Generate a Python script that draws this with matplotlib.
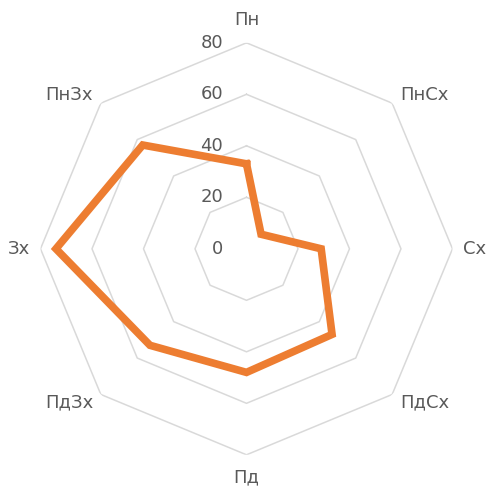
import numpy as np
import matplotlib.pyplot as plt

# directions and the measured values for each
categories = ['Пн', 'ПнСх', 'Сх', 'ПдСх', 'Пд', 'ПдЗх', 'Зх', 'ПнЗх']
values = [33, 8, 29, 47, 48, 53, 74, 57]
ticks = [0, 20, 40, 60, 80]

n = len(categories)
angles = np.arange(n) * 2 * np.pi / n
closed = np.append(angles, angles[0])

fig = plt.figure(figsize=(4.92, 4.95), dpi=100)
ax = fig.add_axes([0.0823, 0.0812, 0.8374, 0.8323], projection='polar')
ax.set_theta_zero_location('N')
ax.set_theta_direction(-1)
ax.set_ylim(0, ticks[-1])
ax.grid(False)
ax.spines['polar'].set_visible(False)
ax.set_xticks([])
ax.set_yticks([])

# octagon grid rings
for t in ticks[1:]:
    ax.plot(closed, [t] * (n + 1), color='#d9d9d9', lw=1.1, zorder=1)

ax.plot(closed, values + values[:1], color='#ed7d31', lw=5.5,
        solid_joinstyle='miter', zorder=3, clip_on=False)

txt = '#595959'
for t in ticks:
    ax.annotate(str(t), xy=(0, t), xytext=(-17, 0), textcoords='offset points',
                ha='right', va='center', fontsize=13, color=txt, zorder=2)

# category labels outside the outer ring
lab_r = [88.7, 84.3, 88.5, 84.3, 88.7, 84.3, 88.4, 84.3]
lab_ha = ['center', 'left', 'center', 'left', 'center', 'right', 'center', 'right']
for a, name, r, ha in zip(angles, categories, lab_r, lab_ha):
    ax.text(a, r, name, ha=ha, va='center', fontsize=13, color=txt, clip_on=False)

fig.savefig('out.png', dpi=100)
